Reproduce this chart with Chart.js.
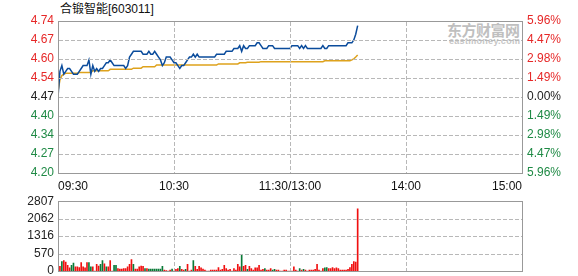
<!DOCTYPE html>
<html>
<head>
<meta charset="utf-8">
<script src="https://cdn.jsdelivr.net/npm/chart.js@4/dist/chart.umd.min.js"></script>
<style>
html, body { margin: 0; padding: 0; background: #fff; overflow: hidden; }
#wrap { position: relative; width: 578px; height: 276px; overflow: hidden; }
#priceChart { position: absolute; left: 0; top: 0; }
#volChart { position: absolute; left: 0; top: 190px; }
#title { position: absolute; left: 60px; top: 2px; font: 12px "Liberation Sans", "Noto Sans CJK SC", sans-serif; line-height: 14px; color: #111; }
#wm1 { position: absolute; left: 447px; top: 21px; font: bold 15px "Noto Sans CJK SC", sans-serif; line-height: 17px; color: #bfbfbf; letter-spacing: -0.5px; }
#wm2 { position: absolute; left: 449px; top: 36px; font: bold 9px "Liberation Sans", sans-serif; line-height: 10px; color: #c6c6c6; letter-spacing: 0.3px; }
</style>
</head>
<body>
<div id="wrap">
  <div id="title">合锻智能[603011]</div>
  <div id="wm1">东方财富网</div>
  <div id="wm2">eastmoney.com</div>
  <canvas id="priceChart" width="578" height="197"></canvas>
  <canvas id="volChart" width="578" height="100"></canvas>
</div>
<script>
// previous close and axis levels
const prevClose = 4.47;
const pctLevels = [-5.96, -4.47, -2.98, -1.49, 0, 1.49, 2.98, 4.47, 5.96];
const timeTickPos = [0, 60, 120, 180, 240];
const timeLabels = ['09:30', '10:30', '11:30/13:00', '14:00', '15:00'];
const volMax = 2807;
const volTickLabels = ['0', '570', '1316', '2062', '2807'];

// minute prices (09:30 ... 13:35)
const prices = [
    4.47, 4.56, 4.58, 4.55, 4.56, 4.57, 4.57, 4.56, 4.55, 4.55,
    4.55, 4.56, 4.57, 4.58, 4.58, 4.58, 4.60, 4.55, 4.58, 4.56,
    4.57, 4.56, 4.57, 4.57, 4.58, 4.59, 4.59, 4.60, 4.59, 4.58,
    4.58, 4.58, 4.58, 4.58, 4.58, 4.57, 4.58, 4.61, 4.62, 4.63,
    4.63, 4.63, 4.63, 4.63, 4.62, 4.62, 4.62, 4.63, 4.62, 4.62,
    4.63, 4.62, 4.61, 4.60, 4.58, 4.59, 4.61, 4.61, 4.61, 4.60,
    4.59, 4.59, 4.58, 4.57, 4.58, 4.58, 4.59, 4.60, 4.61, 4.61,
    4.62, 4.61, 4.62, 4.61, 4.61, 4.61, 4.61, 4.61, 4.61, 4.61,
    4.61, 4.61, 4.62, 4.62, 4.62, 4.62, 4.62, 4.63, 4.63, 4.63,
    4.63, 4.64, 4.64, 4.64, 4.65, 4.63, 4.65, 4.64, 4.64, 4.65,
    4.65, 4.65, 4.65, 4.66, 4.66, 4.65, 4.64, 4.64, 4.64, 4.65,
    4.65, 4.65, 4.64, 4.64, 4.64, 4.64, 4.64, 4.64, 4.64, 4.64,
    4.64, 4.65, 4.65, 4.65, 4.65, 4.64, 4.65, 4.64, 4.65, 4.64,
    4.64, 4.64, 4.64, 4.64, 4.64, 4.64, 4.64, 4.65, 4.64, 4.64,
    4.65, 4.65, 4.65, 4.65, 4.65, 4.65, 4.65, 4.65, 4.65, 4.65,
    4.66, 4.66, 4.66, 4.67, 4.69, 4.72
];

// average price line
const avgPrices = [
    4.490, 4.530, 4.545, 4.550, 4.553, 4.553, 4.553, 4.553, 4.553, 4.553,
    4.553, 4.556, 4.556, 4.556, 4.556, 4.556, 4.556, 4.556, 4.562, 4.562,
    4.562, 4.562, 4.562, 4.562, 4.562, 4.562, 4.562, 4.567, 4.567, 4.567,
    4.567, 4.567, 4.567, 4.567, 4.567, 4.567, 4.567, 4.567, 4.567, 4.571,
    4.571, 4.571, 4.571, 4.571, 4.576, 4.576, 4.576, 4.576, 4.576, 4.576,
    4.576, 4.582, 4.582, 4.582, 4.582, 4.582, 4.582, 4.582, 4.582, 4.582,
    4.582, 4.582, 4.582, 4.582, 4.582, 4.582, 4.582, 4.582, 4.582, 4.582,
    4.582, 4.582, 4.582, 4.582, 4.582, 4.582, 4.582, 4.582, 4.582, 4.582,
    4.582, 4.582, 4.582, 4.586, 4.586, 4.586, 4.586, 4.586, 4.586, 4.586,
    4.586, 4.586, 4.586, 4.586, 4.590, 4.590, 4.590, 4.590, 4.592, 4.592,
    4.592, 4.592, 4.592, 4.592, 4.592, 4.594, 4.594, 4.594, 4.594, 4.594,
    4.594, 4.594, 4.594, 4.594, 4.594, 4.594, 4.594, 4.594, 4.594, 4.594,
    4.594, 4.594, 4.594, 4.594, 4.594, 4.594, 4.594, 4.594, 4.594, 4.594,
    4.594, 4.594, 4.594, 4.594, 4.594, 4.594, 4.594, 4.594, 4.597, 4.597,
    4.597, 4.597, 4.597, 4.597, 4.597, 4.597, 4.597, 4.597, 4.597, 4.597,
    4.597, 4.597, 4.600, 4.604, 4.610, 4.617
];

// minute volumes (lots) and direction (1 up / -1 down)
const volumes = [
    0, 190, 379, 417, 354, 228, 126, 228, 316, 164,
    164, 139, 341, 164, 126, 341, 341, 164, 164, 0,
    265, 202, 265, 417, 291, 164, 164, 417, 0, 228,
    228, 101, 76, 76, 101, 101, 164, 265, 455, 265,
    76, 76, 164, 202, 190, 101, 101, 76, 76, 76,
    76, 76, 76, 76, 190, 38, 13, 0, 38, 76,
    0, 63, 101, 190, 63, 38, 63, 265, 0, 38,
    417, 190, 63, 190, 126, 76, 38, 0, 0, 38,
    38, 38, 38, 139, 38, 63, 228, 101, 38, 63,
    0, 101, 38, 265, 164, 645, 190, 228, 63, 190,
    101, 38, 126, 126, 228, 38, 63, 101, 38, 38,
    101, 38, 63, 38, 38, 0, 0, 38, 38, 0,
    0, 0, 164, 38, 0, 101, 38, 63, 38, 0,
    38, 38, 38, 63, 265, 38, 0, 101, 126, 139,
    101, 101, 139, 101, 126, 101, 38, 38, 38, 38,
    63, 139, 265, 379, 354, 2503
];
const volDir = [
    1, 1, -1, 1, 1, 1, 1, -1, -1, 1,
    1, 1, 1, 1, 1, 1, -1, -1, 1, 1,
    1, 1, -1, -1, 1, -1, 1, 1, 1, -1,
    -1, 1, 1, 1, 1, 1, 1, 1, 1, -1,
    1, 1, 1, 1, 1, -1, 1, -1, -1, -1,
    -1, -1, -1, -1, -1, 1, 1, 1, 1, -1,
    1, 1, 1, -1, 1, 1, -1, 1, 1, 1,
    -1, 1, 1, 1, 1, 1, 1, 1, 1, 1,
    1, 1, 1, 1, 1, 1, 1, 1, 1, 1,
    1, 1, 1, 1, 1, -1, 1, 1, -1, 1,
    1, 1, 1, 1, 1, 1, 1, -1, 1, 1,
    1, -1, -1, 1, 1, 1, 1, 1, 1, 1,
    1, 1, 1, 1, 1, -1, 1, -1, 1, 1,
    1, 1, 1, 1, 1, 1, 1, 1, -1, -1,
    1, 1, 1, 1, 1, 1, 1, 1, 1, 1,
    1, 1, 1, 1, 1, 1
];

const RED = '#e62828';
const GREEN = '#1f8a45';
const GRID = '#b8b8b8';
const FONT = { family: '"Liberation Sans", Arial, sans-serif', size: 12 };

const yMin = prevClose * (1 - 0.0596);
const yMax = prevClose * (1 + 0.0596);
const priceLevels = pctLevels.map(p => prevClose * (1 + p / 100));
const volLevels = volTickLabels.map((t, k) => volMax * k / 4);

function levelColor(v) {
    if (Math.abs(v - prevClose) < 1e-6) return '#222';
    return v > prevClose ? RED : GREEN;
}

// dashed inner grid from 1px blocks, then a solid grey box
function drawFrame(chart, yLevels) {
    const a = chart.chartArea;
    const c = chart.ctx;
    const left = Math.round(a.left), top = Math.round(a.top);
    const right = Math.round(a.right), bottom = Math.round(a.bottom);
    const xs = chart.scales.x, ys = chart.scales.y;
    c.save();
    c.globalCompositeOperation = 'source-over';
    c.globalAlpha = 1;
    c.fillStyle = GRID;
    timeTickPos.slice(1, -1).forEach(v => {
        const px = Math.round(xs.getPixelForValue(v));
        for (let p = top + 1; p < bottom; p += 6) c.fillRect(px, p, 1, Math.min(4, bottom - p));
    });
    yLevels.slice(1, -1).forEach(v => {
        const py = Math.round(ys.getPixelForValue(v));
        for (let p = left + 1; p < right; p += 6) c.fillRect(p, py, Math.min(4, right - p), 1);
    });
    c.fillStyle = '#999';
    c.fillRect(left, top, right - left + 1, 1);
    c.fillRect(left, bottom, right - left + 1, 1);
    c.fillRect(left, top, 1, bottom - top + 1);
    c.fillRect(right, top, 1, bottom - top + 1);
    c.restore();
}

Chart.defaults.font.family = FONT.family;

new Chart(document.getElementById('priceChart'), {
    type: 'line',
    data: {
        datasets: [{
            data: prices.map((v, i) => ({ x: i, y: v })),
            borderColor: '#0b4c9c',
            borderWidth: 1.5,
            pointRadius: 0,
            tension: 0
        }, {
            data: avgPrices.map((v, i) => ({ x: i, y: v })),
            borderColor: '#dea21c',
            borderWidth: 1.5,
            pointRadius: 0,
            tension: 0
        }]
    },
    options: {
        responsive: false,
        animation: false,
        layout: { padding: { top: 21, bottom: 0, left: 0, right: 0 } },
        plugins: { legend: { display: false }, tooltip: { enabled: false } },
        scales: {
            x: {
                type: 'linear', min: 0, max: 240,
                afterBuildTicks: s => { s.ticks = timeTickPos.map(v => ({ value: v })); },
                afterFit: s => { s.height = 24; },
                ticks: {
                    align: 'inner', padding: 6, maxRotation: 0, autoSkip: false,
                    color: '#111', font: FONT,
                    callback: (v, i) => timeLabels[i]
                },
                grid: { display: false, drawTicks: false },
                border: { display: false }
            },
            y: {
                position: 'left', min: yMin, max: yMax,
                afterBuildTicks: s => { s.ticks = priceLevels.map(v => ({ value: v })); },
                afterFit: s => { s.width = 58; },
                ticks: {
                    padding: 4, font: FONT,
                    color: c => levelColor(c.tick.value),
                    callback: v => v.toFixed(2)
                },
                grid: { display: false, drawTicks: false },
                border: { display: false }
            },
            yr: {
                position: 'right', min: yMin, max: yMax,
                afterBuildTicks: s => { s.ticks = priceLevels.map(v => ({ value: v })); },
                afterFit: s => { s.width = 56; },
                ticks: {
                    padding: 5, font: FONT,
                    color: c => levelColor(c.tick.value),
                    callback: v => Math.abs((v / prevClose - 1) * 100).toFixed(2) + '%'
                },
                grid: { display: false, drawTicks: false },
                border: { display: false }
            }
        }
    },
    plugins: [{ id: 'priceFrame', afterDraw: chart => drawFrame(chart, priceLevels) }]
});

new Chart(document.getElementById('volChart'), {
    type: 'bar',
    data: {
        datasets: [{
            data: volumes.map((v, i) => ({ x: i, y: v })),
            backgroundColor: volDir.map(d => d > 0 ? '#f01010' : '#0a7a38'),
            borderWidth: 0,
            barThickness: 1
        }]
    },
    options: {
        responsive: false,
        animation: false,
        layout: { padding: { top: 7, bottom: 19, left: 0, right: 56 } },
        plugins: { legend: { display: false }, tooltip: { enabled: false } },
        scales: {
            x: {
                type: 'linear', min: 0, max: 240, offset: false,
                afterBuildTicks: s => { s.ticks = timeTickPos.map(v => ({ value: v })); },
                afterFit: s => { s.height = 0; },
                ticks: { display: false },
                grid: { display: false, drawTicks: false },
                border: { display: false }
            },
            y: {
                min: 0, max: volMax,
                afterBuildTicks: s => { s.ticks = volLevels.map(v => ({ value: v })); },
                afterFit: s => { s.width = 58; },
                ticks: {
                    padding: 4, font: FONT, color: '#222',
                    callback: (v, i) => volTickLabels[i]
                },
                grid: { display: false, drawTicks: false },
                border: { display: false }
            }
        }
    },
    plugins: [{ id: 'volFrame', afterDraw: chart => drawFrame(chart, volLevels) }]
});
</script>
</body>
</html>
